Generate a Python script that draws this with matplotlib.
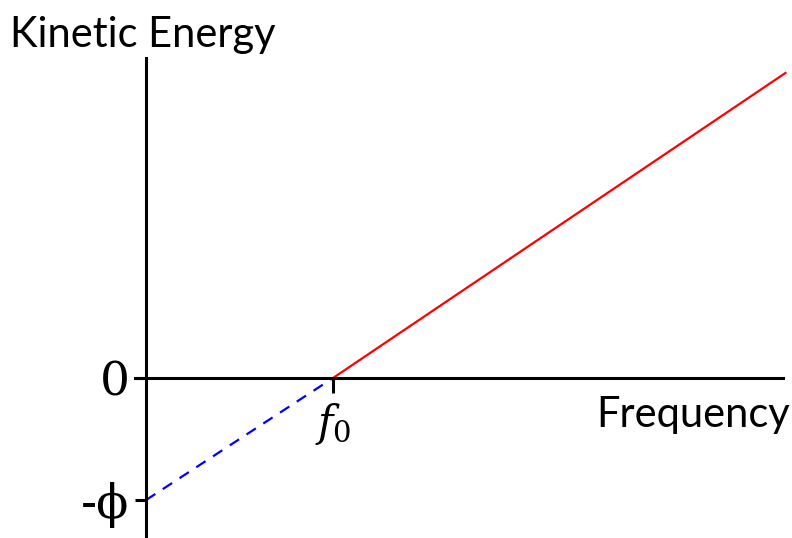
import matplotlib
matplotlib.use("Agg")
import matplotlib.pyplot as plt

# data (units: f0 = 1, phi = 1)
freq_below = [0.0, 1.0]        # extrapolated part (dashed)
ke_below = [-1.0, 0.0]
freq_above = [1.0, 3.42]       # measured part (solid)
ke_above = [0.0, 2.5]
yticks = [0.0, -1.0]
ytick_labels = ["0", "-\u03d5"]
xticks = [1.0]
xtick_labels = [r"$f_0$"]
xlabel = "Frequency"
ylabel = "Kinetic Energy"

plt.rcParams['mathtext.fontset'] = 'dejavuserif'

fig = plt.figure(figsize=(7.92, 5.38), dpi=100)
ax = fig.add_axes([0, 0, 1, 1])
ax.set_xlim(-0.781, 3.455)
ax.set_ylim(-1.311, 3.098)

ax.plot(freq_below, ke_below, color="#0000ff", lw=1.6, dashes=(5, 4))
ax.plot(freq_above, ke_above, color="#ff0000", lw=1.6)

for s in ("top", "right"):
    ax.spines[s].set_visible(False)
ax.spines["left"].set_position(("data", 0))
ax.spines["bottom"].set_position(("data", 0))
ax.spines["left"].set_bounds(-1.311, 2.623)
ax.spines["bottom"].set_bounds(-0.059, 3.406)
for s in ("left", "bottom"):
    ax.spines[s].set_linewidth(2.2)
    ax.spines[s].set_color("black")

ax.set_yticks(yticks)
ax.set_yticklabels(ytick_labels, fontfamily="DejaVu Serif", fontsize=34)
ax.set_xticks(xticks)
ax.set_xticklabels(xtick_labels, fontsize=30)
ax.tick_params(axis="y", direction="out", length=7.9, width=2.2, pad=4)
ax.tick_params(axis="x", direction="out", length=10.8, width=2.2, pad=6)

fig.text(790 / 792, 1 - 427 / 538, xlabel, ha="right", va="baseline",
         fontfamily="Lato", fontsize=30)
fig.text(10 / 792, 1 - 47 / 538, ylabel, ha="left", va="baseline",
         fontfamily="Lato", fontsize=30)

fig.savefig("out.png", dpi=100)
